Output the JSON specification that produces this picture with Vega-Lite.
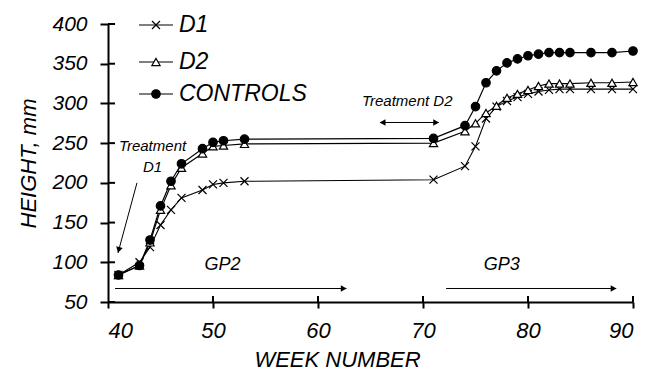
{
  "$schema": "https://vega.github.io/schema/vega-lite/v6.json",
  "width": 525,
  "height": 278,
  "autosize": {"type": "none"},
  "padding": {"left": 108, "top": 24, "right": 14, "bottom": 68},
  "background": "white",
  "datasets": {
    "series": [
      {"week": 41, "height": 84, "group": "D1"},
      {"week": 43, "height": 100, "group": "D1"},
      {"week": 44, "height": 119, "group": "D1"},
      {"week": 45, "height": 147, "group": "D1"},
      {"week": 46, "height": 166, "group": "D1"},
      {"week": 47, "height": 181, "group": "D1"},
      {"week": 49, "height": 191, "group": "D1"},
      {"week": 50, "height": 198, "group": "D1"},
      {"week": 51, "height": 200, "group": "D1"},
      {"week": 53, "height": 202, "group": "D1"},
      {"week": 71, "height": 204, "group": "D1"},
      {"week": 74, "height": 221, "group": "D1"},
      {"week": 75, "height": 246, "group": "D1"},
      {"week": 76, "height": 281, "group": "D1"},
      {"week": 77, "height": 296, "group": "D1"},
      {"week": 78, "height": 303, "group": "D1"},
      {"week": 79, "height": 308, "group": "D1"},
      {"week": 80, "height": 312, "group": "D1"},
      {"week": 81, "height": 315, "group": "D1"},
      {"week": 82, "height": 317, "group": "D1"},
      {"week": 83, "height": 318, "group": "D1"},
      {"week": 84, "height": 318, "group": "D1"},
      {"week": 86, "height": 318, "group": "D1"},
      {"week": 88, "height": 318, "group": "D1"},
      {"week": 90, "height": 318, "group": "D1"},
      {"week": 41, "height": 84, "group": "D2"},
      {"week": 43, "height": 96, "group": "D2"},
      {"week": 44, "height": 125, "group": "D2"},
      {"week": 45, "height": 166, "group": "D2"},
      {"week": 46, "height": 197, "group": "D2"},
      {"week": 47, "height": 219, "group": "D2"},
      {"week": 49, "height": 237, "group": "D2"},
      {"week": 50, "height": 246, "group": "D2"},
      {"week": 51, "height": 247, "group": "D2"},
      {"week": 53, "height": 249, "group": "D2"},
      {"week": 71, "height": 250, "group": "D2"},
      {"week": 74, "height": 265, "group": "D2"},
      {"week": 75, "height": 275, "group": "D2"},
      {"week": 76, "height": 288, "group": "D2"},
      {"week": 77, "height": 297, "group": "D2"},
      {"week": 78, "height": 307, "group": "D2"},
      {"week": 79, "height": 312, "group": "D2"},
      {"week": 80, "height": 317, "group": "D2"},
      {"week": 81, "height": 322, "group": "D2"},
      {"week": 82, "height": 325, "group": "D2"},
      {"week": 83, "height": 325, "group": "D2"},
      {"week": 84, "height": 325, "group": "D2"},
      {"week": 86, "height": 326, "group": "D2"},
      {"week": 88, "height": 326, "group": "D2"},
      {"week": 90, "height": 327, "group": "D2"},
      {"week": 41, "height": 84, "group": "CONTROLS"},
      {"week": 43, "height": 96, "group": "CONTROLS"},
      {"week": 44, "height": 128, "group": "CONTROLS"},
      {"week": 45, "height": 171, "group": "CONTROLS"},
      {"week": 46, "height": 202, "group": "CONTROLS"},
      {"week": 47, "height": 224, "group": "CONTROLS"},
      {"week": 49, "height": 243, "group": "CONTROLS"},
      {"week": 50, "height": 251, "group": "CONTROLS"},
      {"week": 51, "height": 253, "group": "CONTROLS"},
      {"week": 53, "height": 255, "group": "CONTROLS"},
      {"week": 71, "height": 256, "group": "CONTROLS"},
      {"week": 74, "height": 272, "group": "CONTROLS"},
      {"week": 75, "height": 296, "group": "CONTROLS"},
      {"week": 76, "height": 326, "group": "CONTROLS"},
      {"week": 77, "height": 341, "group": "CONTROLS"},
      {"week": 78, "height": 351, "group": "CONTROLS"},
      {"week": 79, "height": 356, "group": "CONTROLS"},
      {"week": 80, "height": 360, "group": "CONTROLS"},
      {"week": 81, "height": 362, "group": "CONTROLS"},
      {"week": 82, "height": 364, "group": "CONTROLS"},
      {"week": 83, "height": 364, "group": "CONTROLS"},
      {"week": 84, "height": 364, "group": "CONTROLS"},
      {"week": 86, "height": 364, "group": "CONTROLS"},
      {"week": 88, "height": 364, "group": "CONTROLS"},
      {"week": 90, "height": 366, "group": "CONTROLS"}
    ],
    "legendRows": [
      {"week": 42.95, "week2": 46.19, "height": 398.7, "group": "D1"},
      {"week": 42.95, "week2": 46.19, "height": 352.2, "group": "D2"},
      {"week": 42.95, "week2": 46.19, "height": 311.9, "group": "CONTROLS"}
    ],
    "legendMarks": [
      {"week": 44.57, "height": 398.7, "group": "D1"},
      {"week": 44.57, "height": 352.2, "group": "D2"},
      {"week": 44.57, "height": 311.9, "group": "CONTROLS"}
    ],
    "legendLabels": [
      {"week": 46.76, "height": 398.7, "label": "D1"},
      {"week": 46.76, "height": 352.2, "label": "D2"},
      {"week": 46.76, "height": 311.9, "label": "CONTROLS"}
    ],
    "ticksY": [
      {"week": 40, "week2": 40.67, "height": 50},
      {"week": 40, "week2": 40.67, "height": 100},
      {"week": 40, "week2": 40.67, "height": 150},
      {"week": 40, "week2": 40.67, "height": 200},
      {"week": 40, "week2": 40.67, "height": 250},
      {"week": 40, "week2": 40.67, "height": 300},
      {"week": 40, "week2": 40.67, "height": 350},
      {"week": 40, "week2": 40.67, "height": 400}
    ],
    "ticksX": [
      {"week": 50, "height": 50, "height2": 57.5},
      {"week": 60, "height": 50, "height2": 57.5},
      {"week": 70, "height": 50, "height2": 57.5},
      {"week": 80, "height": 50, "height2": 57.5},
      {"week": 90, "height": 50, "height2": 57.5}
    ],
    "notes": [
      {"week": 44.24, "height": 246, "label": "Treatment"},
      {"week": 44.24, "height": 220, "label": "D1"},
      {"week": 68.5, "height": 303, "label": "Treatment D2"}
    ],
    "gp": [
      {"week": 50.9, "height": 97, "label": "GP2"},
      {"week": 77.5, "height": 97, "label": "GP3"}
    ],
    "arrows": [
      {"week": 42.76, "height": 200, "week2": 40.95, "height2": 111.7},
      {"week": 65.9, "height": 276, "week2": 71.5, "height2": 276},
      {"week": 40.67, "height": 67, "week2": 62.7, "height2": 67},
      {"week": 72.2, "height": 67, "week2": 88.4, "height2": 67}
    ],
    "headsR": [
      {"week": 71.25, "height": 276},
      {"week": 62.45, "height": 67},
      {"week": 88.15, "height": 67}
    ],
    "headsL": [
      {"week": 66.15, "height": 276}
    ],
    "headsD": [
      {"week": 41.02, "height": 115.5}
    ]
  },
  "encoding": {
    "x": {
      "field": "week",
      "type": "quantitative",
      "scale": {"domain": [40, 90], "nice": false, "zero": false},
      "axis": {
        "values": [40, 50, 60, 70, 80, 90],
        "title": "WEEK NUMBER",
        "titleX": 229,
        "titleY": 64,
        "titleBaseline": "alphabetic",
        "titleAlign": "center",
        "tickSize": 6,
        "labelPadding": 12,
        "labelFontSize": 22
      }
    },
    "y": {
      "field": "height",
      "type": "quantitative",
      "scale": {"domain": [50, 400], "nice": false, "zero": false},
      "axis": {
        "values": [50, 100, 150, 200, 250, 300, 350, 400],
        "title": "HEIGHT, mm",
        "titleX": -80,
        "titleY": 139,
        "titleAngle": -90,
        "titleBaseline": "middle",
        "titleAlign": "center",
        "tickSize": 8,
        "labelPadding": 13,
        "labelFontSize": 21
      }
    }
  },
  "layer": [
    {
      "data": {"name": "ticksY"},
      "mark": {"type": "rule", "color": "black", "strokeWidth": 2},
      "encoding": {"x2": {"field": "week2"}}
    },
    {
      "data": {"name": "ticksX"},
      "mark": {"type": "rule", "color": "black", "strokeWidth": 2},
      "encoding": {"y2": {"field": "height2"}}
    },
    {
      "data": {"name": "series"},
      "mark": {"type": "line", "color": "black"},
      "encoding": {
        "detail": {"field": "group"},
        "strokeWidth": {
          "field": "group",
          "type": "nominal",
          "scale": {"domain": ["D1", "D2", "CONTROLS"], "range": [1.1, 1.2, 2.2]},
          "legend": null
        }
      }
    },
    {
      "data": {"name": "legendRows"},
      "mark": {"type": "rule", "color": "black"},
      "encoding": {
        "x2": {"field": "week2"},
        "strokeWidth": {"field": "group", "type": "nominal", "legend": null}
      }
    },
    {
      "data": {"name": "series"},
      "mark": {"type": "point", "filled": true, "stroke": "black", "strokeWidth": 1.2, "opacity": 1},
      "encoding": {
        "shape": {
          "field": "group",
          "type": "nominal",
          "scale": {"domain": ["D1", "D2", "CONTROLS"], "range": ["M-1,-1L1,1M-1,1L1,-1", "triangle-up", "circle"]},
          "legend": null
        },
        "fill": {
          "field": "group",
          "type": "nominal",
          "scale": {"domain": ["D1", "D2", "CONTROLS"], "range": ["white", "white", "black"]},
          "legend": null
        },
        "size": {
          "field": "group",
          "type": "nominal",
          "scale": {"domain": ["D1", "D2", "CONTROLS"], "range": [64, 72, 90]},
          "legend": null
        }
      }
    },
    {
      "data": {"name": "legendMarks"},
      "mark": {"type": "point", "filled": true, "stroke": "black", "strokeWidth": 1.2, "opacity": 1},
      "encoding": {
        "shape": {"field": "group", "type": "nominal", "legend": null},
        "fill": {"field": "group", "type": "nominal", "legend": null},
        "size": {"field": "group", "type": "nominal", "legend": null}
      }
    },
    {
      "data": {"name": "legendLabels"},
      "mark": {"type": "text", "font": "Liberation Sans", "fontStyle": "italic", "fontSize": 23, "align": "left", "baseline": "middle", "color": "black"},
      "encoding": {"text": {"field": "label"}}
    },
    {
      "data": {"name": "arrows"},
      "mark": {"type": "rule", "color": "black", "strokeWidth": 1},
      "encoding": {"x2": {"field": "week2"}, "y2": {"field": "height2"}}
    },
    {
      "data": {"name": "headsR"},
      "mark": {"type": "point", "shape": "triangle-right", "filled": true, "color": "black", "size": 45, "opacity": 1},
      "encoding": {}
    },
    {
      "data": {"name": "headsL"},
      "mark": {"type": "point", "shape": "triangle-left", "filled": true, "color": "black", "size": 45, "opacity": 1},
      "encoding": {}
    },
    {
      "data": {"name": "headsD"},
      "mark": {"type": "point", "shape": "triangle-down", "filled": true, "color": "black", "size": 45, "angle": 15, "opacity": 1},
      "encoding": {}
    },
    {
      "data": {"name": "notes"},
      "mark": {"type": "text", "font": "Liberation Sans", "fontStyle": "italic", "fontSize": 15, "align": "center", "baseline": "middle", "color": "black"},
      "encoding": {"text": {"field": "label"}}
    },
    {
      "data": {"name": "gp"},
      "mark": {"type": "text", "font": "Liberation Sans", "fontStyle": "italic", "fontSize": 18, "align": "center", "baseline": "middle", "color": "black"},
      "encoding": {"text": {"field": "label"}}
    }
  ],
  "config": {
    "view": {"stroke": null},
    "font": "Liberation Sans",
    "axis": {
      "grid": false,
      "domainColor": "black",
      "domainWidth": 2,
      "tickColor": "black",
      "tickWidth": 2,
      "labelFont": "Liberation Sans",
      "labelFontStyle": "italic",
      "labelFontSize": 20,
      "labelColor": "black",
      "titleFont": "Liberation Sans",
      "titleFontStyle": "italic",
      "titleFontSize": 22,
      "titleFontWeight": "normal",
      "titleColor": "black"
    }
  }
}
